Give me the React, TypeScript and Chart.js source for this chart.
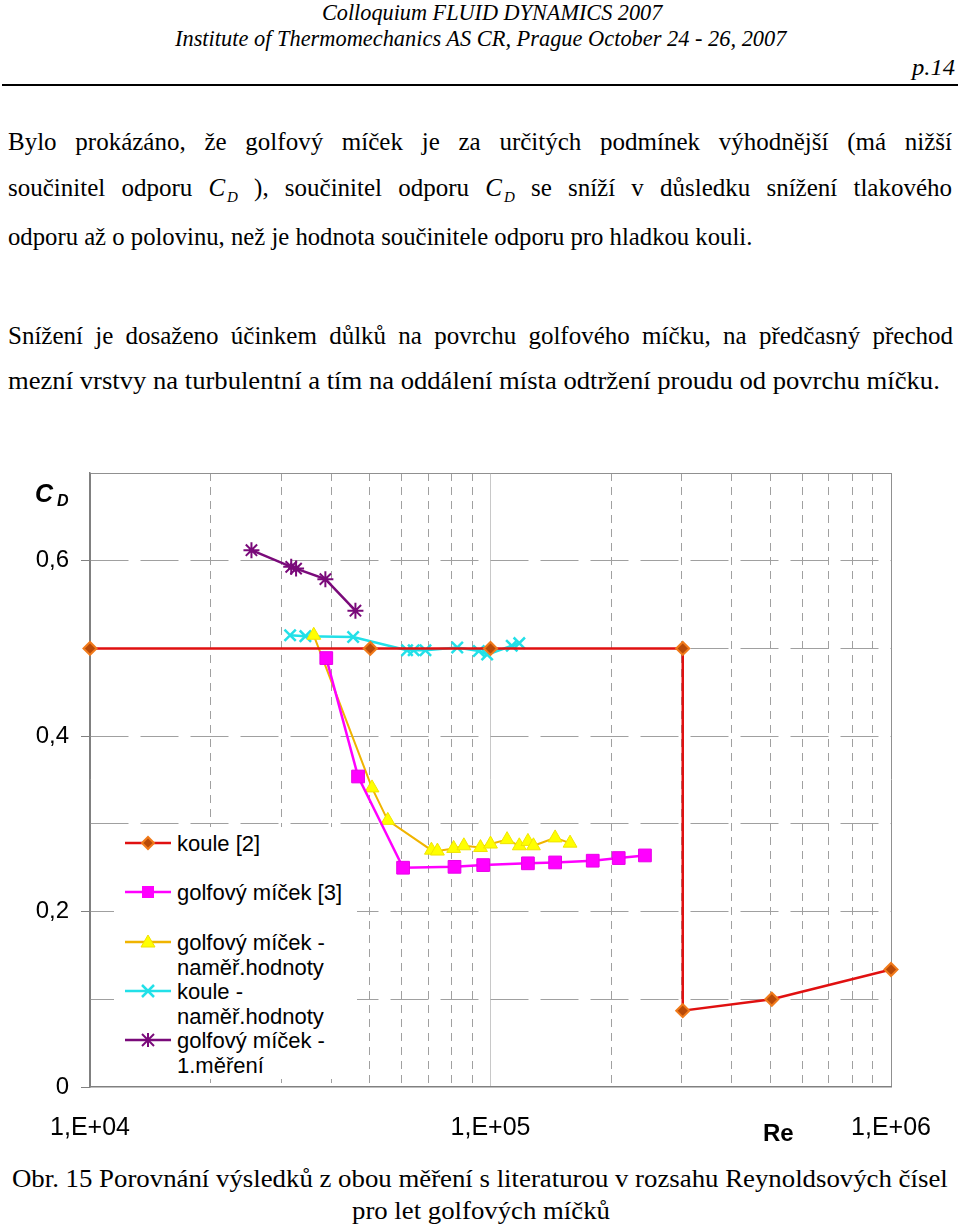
import React, { useEffect, useLayoutEffect, useRef } from 'react';
import { Chart, registerables } from 'chart.js';

Chart.register(...registerables);

const SERIF = '"Liberation Serif", "Times New Roman", serif';
const SANS = '"Liberation Sans", Arial, sans-serif';

// ---------------- data ----------------
const seriesNames = [
  'koule [2]',
  'golfový míček [3]',
  'golfový míček - naměř.hodnoty',
  'koule - naměř.hodnoty',
  'golfový míček - 1.měření',
];

const koule2Re = [1e4, 5.01e4, 1e5, 3.02e5, 3.02e5, 5.04e5, 1e6];
const koule2Cd = [0.5, 0.5, 0.5, 0.5, 0.087, 0.1, 0.134];

const golf3Re = [3.89e4, 4.67e4, 6.05e4, 8.13e4, 9.59e4, 1.24e5, 1.45e5, 1.8e5, 2.09e5, 2.43e5];
const golf3Cd = [0.489, 0.354, 0.25, 0.251, 0.253, 0.255, 0.256, 0.258, 0.261, 0.264];

const golfMeasRe = [3.62e4, 5.06e4, 5.54e4, 7.12e4, 7.37e4, 8.09e4, 8.58e4, 9.44e4, 1.0e5, 1.1e5, 1.18e5, 1.24e5, 1.28e5, 1.45e5, 1.58e5];
const golfMeasCd = [0.515, 0.341, 0.304, 0.27, 0.269, 0.272, 0.275, 0.273, 0.277, 0.282, 0.275, 0.28, 0.275, 0.284, 0.278];

const kouleMeasRe = [3.16e4, 3.45e4, 4.54e4, 6.19e4, 6.43e4, 6.88e4, 8.26e4, 9.35e4, 9.81e4, 1.13e5, 1.18e5];
const kouleMeasCd = [0.515, 0.514, 0.513, 0.498, 0.498, 0.498, 0.501, 0.497, 0.493, 0.503, 0.506];

const golf1Re = [2.53e4, 3.18e4, 3.27e4, 3.87e4, 4.6e4];
const golf1Cd = [0.612, 0.593, 0.591, 0.579, 0.543];

const xGridValues = [
  1e4, 2e4, 3e4, 4e4, 5e4, 6e4, 7e4, 8e4, 9e4,
  1e5, 2e5, 3e5, 4e5, 5e5, 6e5, 7e5, 8e5, 9e5, 1e6,
];
const xLabeledTicks = [1e4, 1e5, 1e6];
const xTickLabels = ['1,E+04', '1,E+05', '1,E+06'];

const yGridValues = [0, 0.1, 0.2, 0.3, 0.4, 0.5, 0.6, 0.7];
const yLabeledTicks = [0, 0.2, 0.4, 0.6];
const yTickLabels = ['0', '0,2', '0,4', '0,6'];

// ---------------- helpers ----------------
const same = (a: number, b: number) => Math.abs(a - b) <= 1e-6 * Math.max(1, Math.abs(b));
const findIdx = (arr: number[], v: number) => arr.findIndex((t) => same(v, t));
const pts = (xs: number[], ys: number[]) => xs.map((x, i) => ({ x, y: ys[i] }));

type LineProps = {
  left: number;
  baseline: number;
  width: number;
  size: number;
  family?: string;
  italic?: boolean;
  bold?: boolean;
  justify?: boolean;
  children: React.ReactNode;
};

function FitLine({ left, baseline, width, size, family = SERIF, italic, bold, justify, children }: LineProps) {
  const inner = useRef<HTMLSpanElement>(null);
  useLayoutEffect(() => {
    const el = inner.current;
    if (!el) return;
    const nat = el.offsetWidth;
    if (justify && nat <= width) {
      el.style.display = 'block';
      el.style.whiteSpace = 'normal';
      el.style.width = width + 'px';
      el.style.textAlign = 'justify';
      (el.style as any).textAlignLast = 'justify';
    } else if (nat > 0) {
      el.style.transform = `scaleX(${width / nat})`;
    }
  }, [width, justify]);
  const asc = family === SERIF ? 0.8375 : 0.8465;
  return (
    <div
      style={{
        position: 'absolute',
        left,
        top: baseline - asc * size,
        fontFamily: family,
        fontSize: size,
        lineHeight: `${size}px`,
        fontStyle: italic ? 'italic' : 'normal',
        fontWeight: bold ? 'bold' : 'normal',
        color: '#000',
      }}
    >
      <span
        ref={inner}
        style={{ display: 'inline-block', whiteSpace: 'nowrap', transformOrigin: 'left center' }}
      >
        {children}
      </span>
    </div>
  );
}

function CD() {
  return (
    <span style={{ fontStyle: 'italic' }}>
      C<span style={{ fontSize: 15, position: 'relative', top: 6, marginLeft: 2 }}>D</span>
    </span>
  );
}

function LegendMarker({ kind }: { kind: number }) {
  const cx = 26;
  const cy = 10;
  let line = '#E01010';
  let marker: React.ReactNode = null;
  if (kind === 0) {
    line = '#E01010';
    marker = (
      <polygon
        points={`${cx - 6},${cy} ${cx},${cy - 6} ${cx + 6},${cy} ${cx},${cy + 6}`}
        fill="#B84A08"
        stroke="#F07A1A"
        strokeWidth={2}
      />
    );
  } else if (kind === 1) {
    line = '#FF00FF';
    marker = <rect x={cx - 6} y={cy - 6} width={12} height={12} fill="#FF00FF" />;
  } else if (kind === 2) {
    line = '#F0B400';
    marker = (
      <polygon points={`${cx},${cy - 7} ${cx + 7},${cy + 5} ${cx - 7},${cy + 5}`} fill="#FFFF00" stroke="#F0E000" />
    );
  } else if (kind === 3) {
    line = '#22E0E8';
    marker = (
      <g stroke="#22E0E8" strokeWidth={2.5}>
        <line x1={cx - 6} y1={cy - 6} x2={cx + 6} y2={cy + 6} />
        <line x1={cx - 6} y1={cy + 6} x2={cx + 6} y2={cy - 6} />
      </g>
    );
  } else {
    line = '#7A0A7A';
    marker = (
      <g stroke="#7A0A7A" strokeWidth={2}>
        <line x1={cx - 6} y1={cy - 6} x2={cx + 6} y2={cy + 6} />
        <line x1={cx - 6} y1={cy + 6} x2={cx + 6} y2={cy - 6} />
        <line x1={cx} y1={cy - 7} x2={cx} y2={cy + 7} />
      </g>
    );
  }
  return (
    <svg width={52} height={20} style={{ display: 'block' }}>
      <line x1={3} y1={cy} x2={49} y2={cy} stroke={line} strokeWidth={2.5} />
      {marker}
    </svg>
  );
}

const legendRowsY = [843, 892, 942, 991, 1040];

function ChartCanvas() {
  const ref = useRef<HTMLCanvasElement>(null);
  useEffect(() => {
    const canvas = ref.current;
    if (!canvas) return;
    const chart = new Chart(canvas, {
      type: 'line',
      data: {
        datasets: [
          {
            label: seriesNames[0],
            data: pts(koule2Re, koule2Cd),
            borderColor: '#E01010',
            borderWidth: 2.5,
            pointStyle: 'rectRot',
            pointRadius: 6.5,
            pointBackgroundColor: '#B84A08',
            pointBorderColor: '#F07A1A',
            pointBorderWidth: 2,
            tension: 0,
            clip: false as any,
          },
          {
            label: seriesNames[1],
            data: pts(golf3Re, golf3Cd),
            borderColor: '#FF00FF',
            borderWidth: 2.5,
            pointStyle: 'rect',
            pointRadius: 9,
            pointBackgroundColor: '#FF00FF',
            pointBorderColor: '#E800E8',
            pointBorderWidth: 1,
            tension: 0,
            clip: false as any,
          },
          {
            label: seriesNames[2],
            data: pts(golfMeasRe, golfMeasCd),
            borderColor: '#F0B400',
            borderWidth: 2,
            pointStyle: 'triangle',
            pointRadius: 8,
            pointBackgroundColor: '#FFFF00',
            pointBorderColor: '#F0E400',
            pointBorderWidth: 1,
            tension: 0,
            clip: false as any,
          },
          {
            label: seriesNames[3],
            data: pts(kouleMeasRe, kouleMeasCd),
            borderColor: '#22E0E8',
            borderWidth: 2.5,
            pointStyle: 'crossRot',
            pointRadius: 8,
            pointBorderColor: '#22E0E8',
            pointBorderWidth: 2.5,
            tension: 0,
            clip: false as any,
          },
          {
            label: seriesNames[4],
            data: pts(golf1Re, golf1Cd),
            borderColor: '#7A0A7A',
            borderWidth: 2.5,
            pointStyle: 'star',
            pointRadius: 8,
            pointBorderColor: '#7A0A7A',
            pointBorderWidth: 2,
            tension: 0,
            clip: false as any,
          },
        ],
      },
      options: {
        responsive: false,
        animation: false,
        events: [],
        layout: { padding: { top: 33, right: 69, left: 0, bottom: 0 } },
        plugins: { legend: { display: false }, tooltip: { enabled: false } },
        scales: {
          x: {
            type: 'logarithmic',
            min: 1e4,
            max: 1e6,
            afterBuildTicks: (s: any) => {
              s.ticks = xGridValues.map((v) => ({ value: v }));
            },
            afterFit: (s: any) => {
              s.height = 73;
            },
            ticks: {
              autoSkip: false,
              maxRotation: 0,
              minRotation: 0,
              padding: 26,
              color: '#000',
              font: { family: SANS, size: 25 },
              callback: (v: any) => {
                const i = findIdx(xLabeledTicks, Number(v));
                return i >= 0 ? xTickLabels[i] : '';
              },
            },
            grid: {
              drawTicks: false,
              lineWidth: 1,
              color: (ctx: any) => {
                const v = ctx.tick ? ctx.tick.value : undefined;
                if (v === undefined) return '#A0A0A0';
                if (same(v, 1e4)) return '#808080';
                if (same(v, 1e5)) return '#C8C8C8';
                if (same(v, 1e6)) return '#909090';
                return '#A0A0A0';
              },
            },
            border: {
              display: true,
              color: '#808080',
              width: 1.5,
              dash: (ctx: any) => {
                const v = ctx.tick ? ctx.tick.value : undefined;
                if (v === undefined) return [];
                if (findIdx(xLabeledTicks, v) >= 0) return [];
                return [8, 6];
              },
            } as any,
          },
          y: {
            type: 'linear',
            min: 0,
            max: 0.7,
            afterBuildTicks: (s: any) => {
              s.ticks = yGridValues.map((v) => ({ value: v }));
            },
            afterFit: (s: any) => {
              s.width = 90;
            },
            ticks: {
              autoSkip: false,
              padding: 12,
              color: '#000',
              font: { family: SANS, size: 24 },
              callback: (v: any) => {
                const i = findIdx(yLabeledTicks, Number(v));
                return i >= 0 ? yTickLabels[i] : '';
              },
            },
            grid: {
              drawTicks: true,
              tickLength: 9,
              tickBorderDash: [],
              tickColor: (ctx: any) => {
                const v = ctx.tick ? ctx.tick.value : undefined;
                if (v === undefined) return 'transparent';
                return findIdx(yLabeledTicks, v) >= 0 ? '#808080' : 'transparent';
              },
              lineWidth: 1,
              color: (ctx: any) => {
                const v = ctx.tick ? ctx.tick.value : undefined;
                if (v === undefined) return '#A0A0A0';
                if (same(v, 0)) return 'transparent';
                if (same(v, 0.7)) return '#909090';
                return '#A0A0A0';
              },
            } as any,
            border: {
              display: true,
              color: '#808080',
              width: 1.5,
              dash: (ctx: any) => {
                const v = ctx.tick ? ctx.tick.value : undefined;
                if (v === undefined) return [];
                if (same(v, 0.7) || same(v, 0)) return [];
                return [38, 12];
              },
            } as any,
          },
        },
      },
    } as any);
    return () => chart.destroy();
  }, []);
  return (
    <canvas
      ref={ref}
      width={960}
      height={720}
      style={{ position: 'absolute', left: 0, top: 440, width: 960, height: 720 }}
    />
  );
}

export default function App() {
  return (
    <div
      style={{
        position: 'absolute',
        left: 0,
        top: 0,
        width: 960,
        height: 1226,
        overflow: 'hidden',
        background: '#fff',
      }}
    >
      {/* header */}
      <FitLine left={322} baseline={20} width={340} size={24} italic>
        Colloquium FLUID DYNAMICS 2007
      </FitLine>
      <FitLine left={175} baseline={46} width={611} size={24} italic>
        Institute of Thermomechanics AS CR, Prague October 24 - 26, 2007
      </FitLine>
      <FitLine left={912} baseline={75} width={43} size={24} italic>
        p.14
      </FitLine>
      <div style={{ position: 'absolute', left: 2, top: 84, width: 956, height: 2, background: '#000' }} />

      {/* body text */}
      <FitLine left={8} baseline={150} width={944} size={25} justify>
        Bylo prokázáno, že golfový míček je za určitých podmínek výhodnější (má nižší
      </FitLine>
      <FitLine left={8} baseline={196} width={944} size={25} justify>
        součinitel odporu <CD /> ), součinitel odporu <CD /> se sníží v důsledku snížení tlakového
      </FitLine>
      <FitLine left={8} baseline={245} width={744} size={25}>
        odporu až o polovinu, než je hodnota součinitele odporu pro hladkou kouli.
      </FitLine>
      <FitLine left={8} baseline={344} width={945} size={25} justify>
        Snížení je dosaženo účinkem důlků na povrchu golfového míčku, na předčasný přechod
      </FitLine>
      <FitLine left={8} baseline={389} width={932} size={25}>
        mezní vrstvy na turbulentní a tím na oddálení místa odtržení proudu od povrchu míčku.
      </FitLine>

      <ChartCanvas />

      {/* axis titles */}
      <div
        style={{
          position: 'absolute',
          left: 35,
          top: 502 - 0.8465 * 25,
          fontFamily: SANS,
          fontSize: 25,
          lineHeight: '25px',
          fontWeight: 'bold',
          fontStyle: 'italic',
        }}
      >
        C
        <span style={{ fontSize: 16, position: 'relative', top: 4, marginLeft: 4 }}>D</span>
      </div>
      <div
        style={{
          position: 'absolute',
          left: 763,
          top: 1141 - 0.8465 * 24,
          fontFamily: SANS,
          fontSize: 24,
          lineHeight: '24px',
          fontWeight: 'bold',
        }}
      >
        Re
      </div>

      {/* legend */}
      <div style={{ position: 'absolute', left: 114, top: 827, width: 243, height: 252, background: '#fff' }} />
      {seriesNames.map((name, i) => {
        const lines = name.replace(' - ', ' -\n').split('\n');
        const y = legendRowsY[i];
        return (
          <React.Fragment key={i}>
            <div style={{ position: 'absolute', left: 122, top: y - 10 }}>
              <LegendMarker kind={i} />
            </div>
            <div
              style={{
                position: 'absolute',
                left: 177,
                top: y - 12.5,
                fontFamily: SANS,
                fontSize: 22,
                lineHeight: '25px',
                whiteSpace: 'pre',
                color: '#000',
              }}
            >
              {lines.join('\n')}
            </div>
          </React.Fragment>
        );
      })}

      {/* caption */}
      <FitLine left={12} baseline={1187} width={936} size={25}>
        Obr. 15 Porovnání výsledků z obou měření s literaturou v rozsahu Reynoldsových čísel
      </FitLine>
      <FitLine left={352} baseline={1219} width={258} size={25}>
        pro let golfových míčků
      </FitLine>
    </div>
  );
}
